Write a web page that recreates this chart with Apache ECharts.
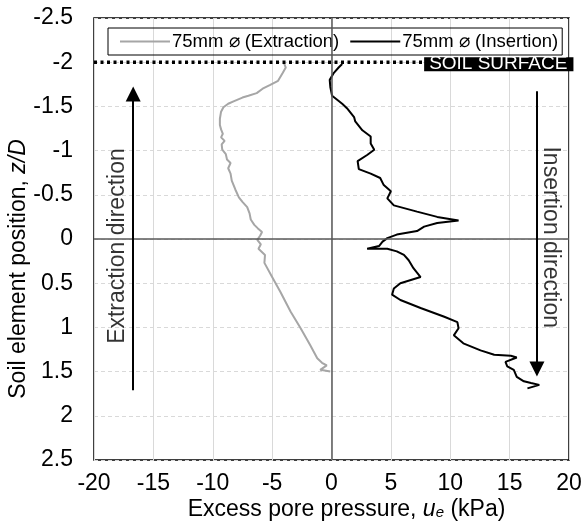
<!DOCTYPE html>
<html>
<head>
<meta charset="utf-8">
<script src="https://cdn.jsdelivr.net/npm/echarts@6/dist/echarts.min.js"></script>
<style>
  html, body { margin: 0; padding: 0; background: #fff; }
  #chart { width: 583px; height: 525px; }
</style>
</head>
<body>
<div id="chart"></div>
<script>
// excess pore pressure (kPa) vs soil element position z/D
const extPressure = [-4.0, -3.85, -4.1, -4.5, -5.2, -5.8, -6.3, -6.2, -7.0, -7.5, -7.6, -8.2, -8.7, -9.1, -9.3, -9.4, -9.4, -9.3, -9.15, -9.3, -9.0, -9.25, -9.2, -8.9, -8.8, -8.5, -8.7, -8.5, -8.4, -8.1, -7.8, -7.5, -7.1, -6.9, -6.8, -6.5, -6.2, -5.85, -6.0, -6.25, -5.95, -6.15, -5.6, -5.65, -5.0, -4.3, -3.45, -2.6, -1.8, -1.2, -0.8, -0.4, -0.95, -0.1]
const extPosition = [-1.99, -1.94, -1.88, -1.79, -1.74, -1.70, -1.65, -1.63, -1.62, -1.60, -1.58, -1.56, -1.53, -1.49, -1.44, -1.36, -1.29, -1.24, -1.19, -1.15, -1.11, -1.07, -1.01, -0.96, -0.90, -0.86, -0.80, -0.74, -0.66, -0.56, -0.47, -0.42, -0.36, -0.29, -0.22, -0.16, -0.12, -0.08, -0.04, 0.01, 0.06, 0.11, 0.18, 0.27, 0.43, 0.60, 0.82, 1.01, 1.20, 1.35, 1.40, 1.43, 1.48, 1.50]

const insPressure = [0.9, 0.6, 0.2, -0.15, -0.1, 0.05, 0.9, 1.3, 1.9, 2.0, 2.6, 3.3, 3.3, 3.6, 3.0, 2.2, 2.3, 3.3, 4.1, 4.4, 5.0, 4.7, 5.25, 7.2, 8.9, 10.7, 8.9, 7.8, 7.2, 5.5, 4.7, 4.3, 4.0, 3.0, 4.7, 5.5, 6.1, 6.5, 6.9, 7.5, 5.8, 5.25, 5.1, 5.8, 7.5, 9.5, 10.6, 10.7, 10.3, 11.1, 12.55, 13.7, 15.1, 15.6, 14.65, 14.8, 15.35, 15.6, 16.2, 16.8, 17.5, 16.5]
const insPosition = [-1.98, -1.94, -1.88, -1.80, -1.72, -1.62, -1.53, -1.48, -1.38, -1.33, -1.23, -1.16, -1.08, -1.01, -0.95, -0.88, -0.79, -0.74, -0.69, -0.61, -0.54, -0.46, -0.38, -0.31, -0.25, -0.21, -0.18, -0.14, -0.09, -0.05, -0.01, 0.03, 0.08, 0.11, 0.11, 0.14, 0.18, 0.24, 0.33, 0.43, 0.50, 0.56, 0.63, 0.69, 0.78, 0.88, 0.94, 1.01, 1.09, 1.18, 1.26, 1.31, 1.32, 1.34, 1.39, 1.44, 1.48, 1.56, 1.61, 1.63, 1.65, 1.69]

const seriesNames = ['75mm ⌀ (Extraction)', '75mm ⌀ (Insertion)']
const soilSurface = [[-20, -2], [7.8, -2]]
const extArrow = [[-16.7, 1.71], [-16.7, -1.64]]
const insArrow = [[17.3, -1.67], [17.3, 1.47]]

const font = 'Liberation Sans, Arial, sans-serif'
const zip = (xs, ys) => xs.map((x, i) => [x, ys[i]])

const chart = echarts.init(document.getElementById('chart'))
chart.setOption({
  animation: false,
  textStyle: { fontFamily: font, color: '#000' },
  grid: {
    left: 94, right: 14, top: 18, bottom: 65,
    outerBoundsMode: 'none', containLabel: false,
    show: true, borderColor: '#000', borderWidth: 1.5
  },
  legend: {
    data: [
      { name: seriesNames[0], itemStyle: { color: '#a6a6a6' } },
      { name: seriesNames[1], itemStyle: { color: '#000' } }
    ],
    left: 108, top: 28,
    borderColor: '#000', borderWidth: 1,
    padding: [4, 4, 4, 12],
    itemGap: 11,
    icon: 'rect',
    itemWidth: 50, itemHeight: 2,
    textStyle: { fontSize: 18.5, fontFamily: font, color: '#000', padding: [0, 0, 0, -3] }
  },
  xAxis: {
    type: 'value', min: -20, max: 20, interval: 5,
    axisLine: { show: false },
    axisTick: { show: false },
    axisLabel: { fontSize: 23, color: '#000', margin: 12 },
    splitLine: { lineStyle: { color: '#d9d9d9', width: 1 } },
    name: 'Excess pore pressure, {i|u}{s|e} (kPa)',
    nameLocation: 'middle', nameGap: 38, nameMoveOverlap: false,
    nameTextStyle: {
      fontSize: 23, color: '#000', padding: [0, 0, 0, 30],
      rich: {
        i: { fontSize: 23, fontStyle: 'italic', color: '#000' },
        s: { fontSize: 15, fontStyle: 'italic', color: '#000', padding: [6, 0, 0, 0] }
      }
    }
  },
  yAxis: {
    type: 'value', min: -2.5, max: 2.5, interval: 0.5, inverse: true,
    axisLine: { show: false },
    axisTick: { show: false },
    axisLabel: { fontSize: 23, color: '#000', margin: 21 },
    splitLine: { lineStyle: { color: '#d9d9d9', width: 1, type: [4, 3] } },
    name: 'Soil element position, {i|z/D}',
    nameLocation: 'middle', nameGap: 64, nameMoveOverlap: false,
    nameTextStyle: {
      fontSize: 23, color: '#000', padding: [0, 60, 0, 0],
      rich: { i: { fontSize: 23, fontStyle: 'italic', color: '#000' } }
    }
  },
  series: [
    {
      name: seriesNames[0], type: 'line', symbol: 'none',
      data: zip(extPressure, extPosition),
      lineStyle: { color: '#a6a6a6', width: 2 }, itemStyle: { color: '#a6a6a6' },
      z: 3,
      markLine: {
        silent: true, symbol: 'none', label: { show: false },
        lineStyle: { color: '#595959', width: 1.5, type: 'solid' },
        data: [{ xAxis: 0 }, { yAxis: 0 }]
      }
    },
    {
      name: seriesNames[1], type: 'line', symbol: 'none',
      data: zip(insPressure, insPosition),
      lineStyle: { color: '#000', width: 2 }, itemStyle: { color: '#000' },
      z: 4
    },
    {
      name: 'soil', type: 'line', symbol: 'none',
      data: soilSurface,
      lineStyle: { color: '#000', width: 3.5, type: [3, 3.5] },
      z: 5,
      endLabel: {
        show: true, formatter: 'SOIL SURFACE',
        backgroundColor: '#000', color: '#fff', fontSize: 19,
        padding: [0, 6, -1, 5], distance: 0, offset: [0, 2], lineHeight: 15
      }
    },
    {
      name: 'arrows', type: 'lines', coordinateSystem: 'cartesian2d',
      symbol: ['none', 'triangle'], symbolSize: [14, 15],
      lineStyle: { color: '#000', width: 2, opacity: 1 },
      data: [{ coords: extArrow }, { coords: insArrow }],
      z: 6
    },
    {
      name: 'labels', type: 'scatter', symbolSize: 0,
      data: [
        { value: [-18.0, 0.08], label: { rotate: 90 }, name: 'Extraction direction' },
        { value: [18.45, -0.02], label: { rotate: -90 }, name: 'Insertion direction' }
      ],
      label: {
        show: true, position: 'inside', formatter: p => p.name,
        fontSize: 23, color: '#000'
      },
      z: 6
    }
  ]
})
</script>
</body>
</html>
